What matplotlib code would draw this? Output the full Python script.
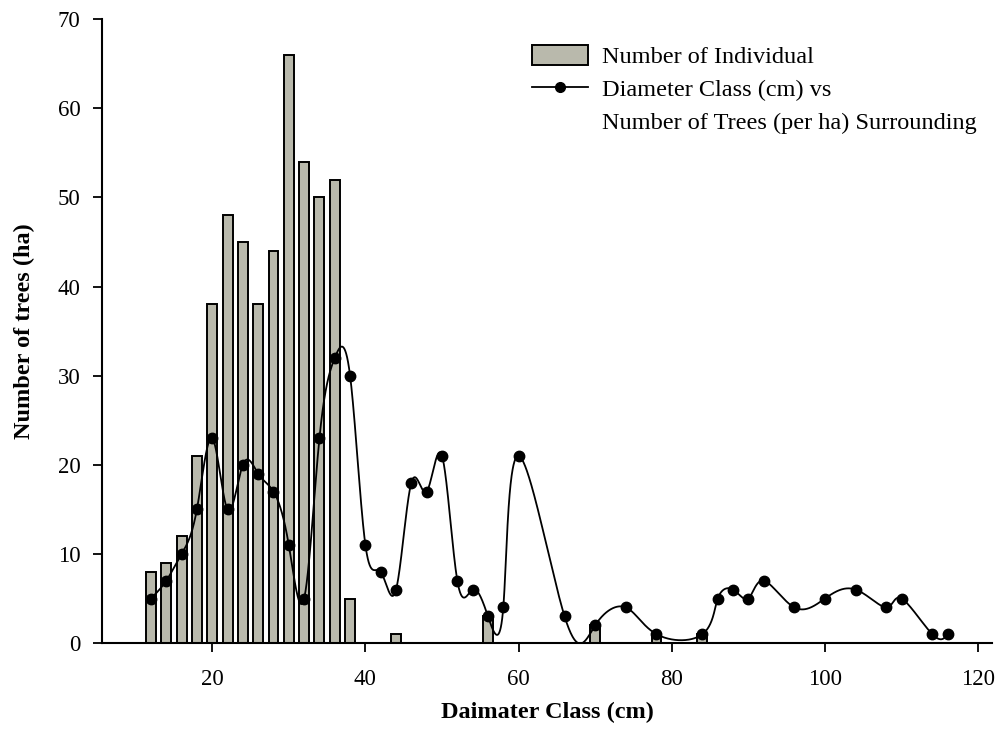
import numpy as np
import matplotlib.pyplot as plt
from matplotlib.patches import Patch
from matplotlib.lines import Line2D

plt.rcParams['font.family'] = ['Liberation Serif', 'DejaVu Serif']

# bars: number of individuals per diameter class
bar_x = [12, 14, 16, 18, 20, 22, 24, 26, 28, 30, 32, 34, 36, 38, 44, 56, 70, 78, 84]
bar_y = [8, 9, 12, 21, 38, 48, 45, 38, 44, 66, 54, 50, 52, 5, 1, 3, 2, 1, 1]

# line: trees per ha surrounding
line_x = [12, 14, 16, 18, 20, 22, 24, 26, 28, 30, 32, 34, 36, 38, 40, 42, 44, 46, 48, 50,
          52, 54, 56, 58, 60, 66, 70, 74, 78, 84, 86, 88, 90, 92, 96, 100, 104, 108, 110,
          114, 116]
line_y = [5, 7, 10, 15, 23, 15, 20, 19, 17, 11, 5, 23, 32, 30, 11, 8, 6, 18, 17, 21,
          7, 6, 3, 4, 21, 3, 2, 4, 1, 1, 5, 6, 5, 7, 4, 5, 6, 4, 5,
          1, 1]


def spline_coeffs(t, v):
    # natural cubic spline second derivatives
    n = len(t)
    h = np.diff(t)
    A = np.zeros((n, n))
    r = np.zeros(n)
    A[0, 0] = 1
    A[-1, -1] = 1
    for i in range(1, n - 1):
        A[i, i - 1] = h[i - 1]
        A[i, i] = 2 * (h[i - 1] + h[i])
        A[i, i + 1] = h[i]
        r[i] = 6 * ((v[i + 1] - v[i]) / h[i] - (v[i] - v[i - 1]) / h[i - 1])
    return np.linalg.solve(A, r)


def spline_eval(t, v, M, ts):
    k = np.clip(np.searchsorted(t, ts) - 1, 0, len(t) - 2)
    h = t[k + 1] - t[k]
    a = t[k + 1] - ts
    b = ts - t[k]
    return (M[k] * a**3 + M[k + 1] * b**3) / (6 * h) \
        + (v[k] / h - M[k] * h / 6) * a + (v[k + 1] / h - M[k + 1] * h / 6) * b


fig = plt.figure(figsize=(9.99, 7.4), dpi=100)
ax = fig.add_axes([0.102, 0.131, 0.891, 0.843])
ax.set_xlim(5.6, 121.8)
ax.set_ylim(0, 70)

bar_col = '#b9b9ac'
ax.bar(bar_x, bar_y, width=1.3, color=bar_col, edgecolor='black', linewidth=1.4, zorder=2)

# parametric spline over the point index
xa = np.array(line_x, float)
ya = np.array(line_y, float)
t = np.arange(len(xa), dtype=float)
ts = np.linspace(0, t[-1], 4000)
sx = spline_eval(t, xa, spline_coeffs(t, xa), ts)
sy = spline_eval(t, ya, spline_coeffs(t, ya), ts)
ax.plot(sx, sy, color='black', lw=1.3, zorder=3)
ax.plot(line_x, line_y, 'o', color='black', ms=7.5, zorder=4)

ax.set_xticks([20, 40, 60, 80, 100, 120])
ax.set_yticks(range(0, 71, 10))
ax.spines['top'].set_visible(False)
ax.spines['right'].set_visible(False)
ax.spines['left'].set_linewidth(1.5)
ax.spines['bottom'].set_linewidth(1.5)
ax.tick_params(direction='out', length=6.5, width=1.3, labelsize=16.5)
ax.tick_params(axis='x', pad=12)
ax.tick_params(axis='y', pad=9)

ax.set_xlabel('Daimater Class (cm)', fontsize=17.5, fontweight='bold', labelpad=8.5)
ax.set_ylabel('Number of trees (ha)', fontsize=17.5, fontweight='bold', labelpad=16)

handles = [Patch(facecolor=bar_col, edgecolor='black', linewidth=1.4),
           Line2D([], [], color='black', lw=1.3, marker='o', ms=7),
           Line2D([], [], visible=False)]
labels = ['Number of Individual', 'Diameter Class (cm) vs',
          'Number of Trees (per ha) Surrounding']
ax.legend(handles, labels, loc='upper left', bbox_to_anchor=(0.472, 0.975),
          frameon=False, fontsize=17.5, handlelength=2.3, handleheight=0.9,
          handletextpad=0.6, labelspacing=0.39, borderaxespad=0)

fig.savefig('out.png', dpi=100)
